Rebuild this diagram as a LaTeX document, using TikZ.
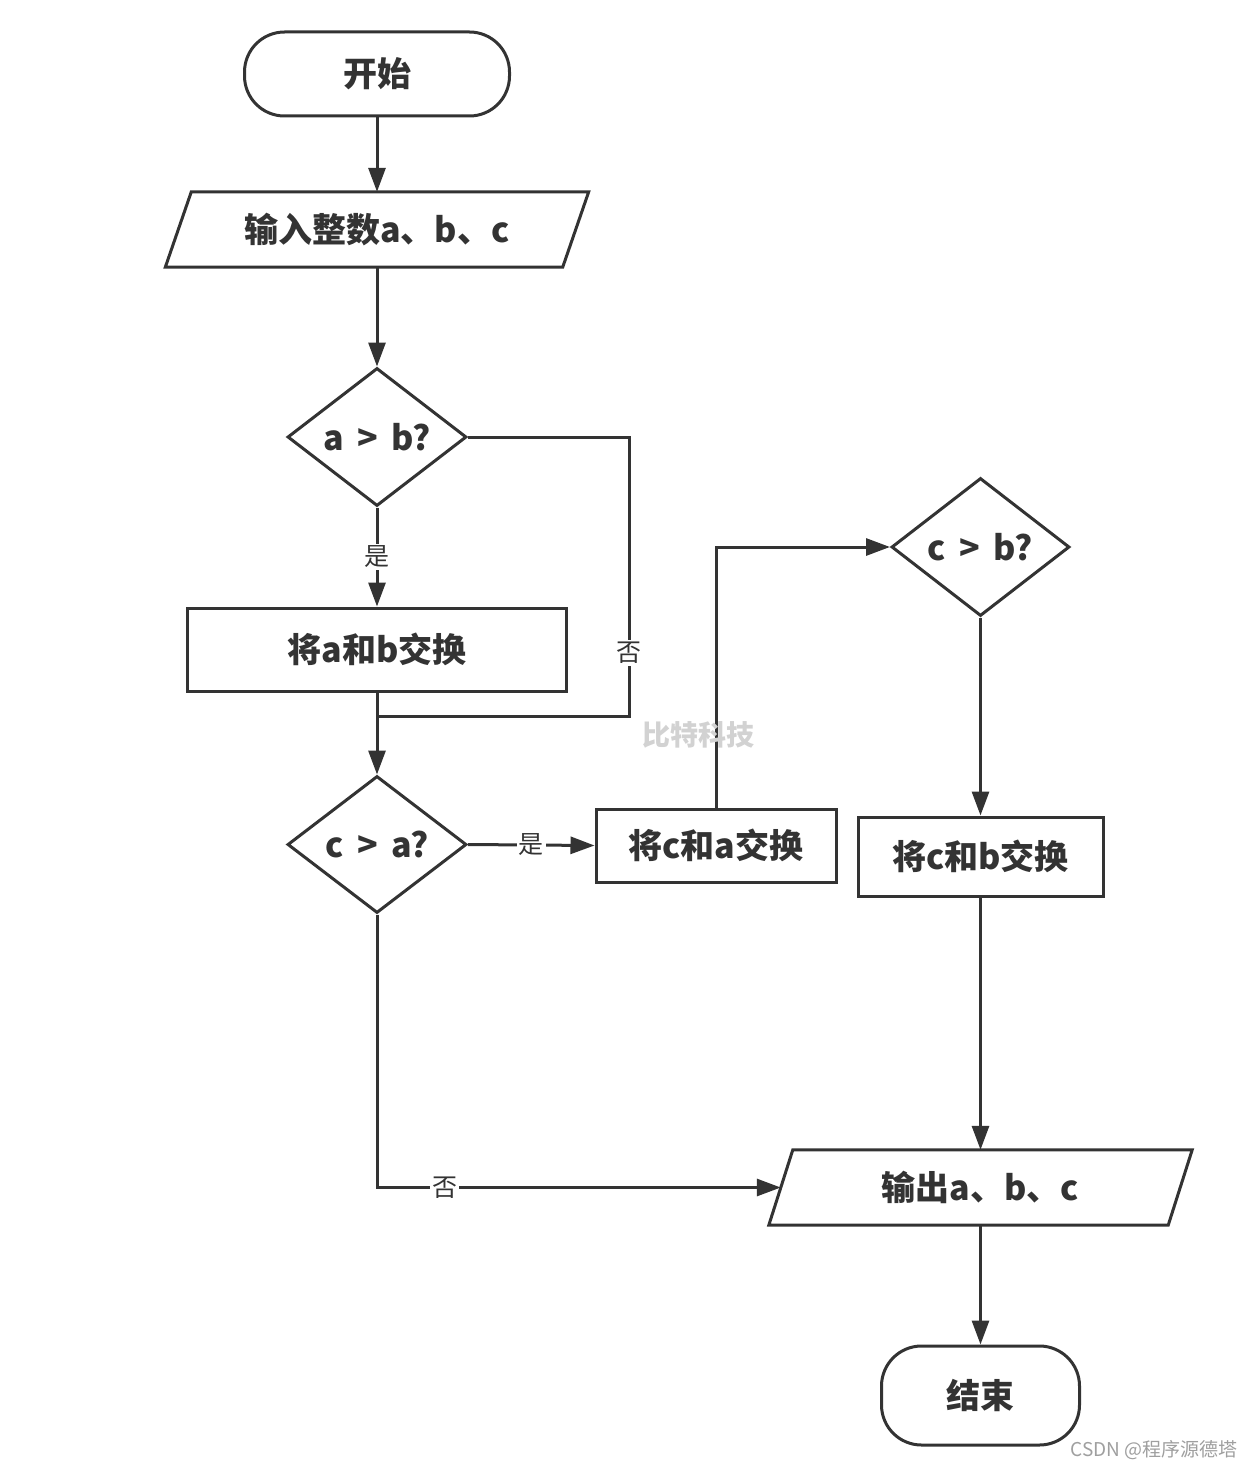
\documentclass[tikz,border=0pt]{standalone}
\usepackage{fontspec}
\setmainfont{Noto Sans CJK SC}
\usetikzlibrary{shapes.geometric,arrows.meta,calc}
\definecolor{ink}{HTML}{333333}
\tikzset{
  shapeline/.style={draw=ink, line width=3pt},
  btext/.style={text=ink, font=\fontsize{34}{40}\selectfont\bfseries, inner sep=0pt},
  boxnode/.style={btext, shapeline, rectangle},
  termnode/.style={btext, shapeline, rectangle, rounded corners=40pt},
  decnode/.style={btext, shapeline, diamond},
  ionode/.style={btext, rectangle, minimum height=75pt},
  conn/.style={draw=ink, line width=3pt, -{Triangle[length=24pt,width=17pt]}},
  plainconn/.style={draw=ink, line width=3pt},
  lbl/.style={text=ink, fill=white, inner sep=2pt, font=\fontsize{25}{29}\selectfont}
}
\begin{document}
\begin{tikzpicture}[x=1pt,y=-1pt]
\useasboundingbox[fill=white] (0,0) rectangle (1253,1469);

% nodes
\node[termnode, minimum width=265pt, minimum height=84pt] (start) at (377,74) {开始};
\node[ionode, minimum width=397pt] (in) at (377,229.5) {输入整数a、b、c};
\draw[shapeline] ([xshift=13pt]in.north west) -- ([xshift=13pt]in.north east)
  -- ([xshift=-13pt]in.south east) -- ([xshift=-13pt]in.south west) -- cycle;
\node[decnode, minimum width=179pt, minimum height=138pt] (d1) at (377,437) {a \,>\, b?};
\node[boxnode, minimum width=379pt, minimum height=83pt] (ab) at (377,649.5) {将a和b交换};
\node[decnode, minimum width=179pt, minimum height=137pt] (d2) at (377,844.5) {c \,>\, a?};
\node[boxnode, minimum width=240pt, minimum height=73pt] (ca) at (716,845.5) {将c和a交换};
\node[decnode, minimum width=178pt, minimum height=138pt] (d3) at (980.5,547) {c \,>\, b?};
\node[boxnode, minimum width=245pt, minimum height=79pt] (cb) at (980.5,856.5) {将c和b交换};
\node[ionode, minimum width=399pt] (out) at (980.5,1187.5) {输出a、b、c};
\draw[shapeline] ([xshift=12pt]out.north west) -- ([xshift=12pt]out.north east)
  -- ([xshift=-12pt]out.south east) -- ([xshift=-12pt]out.south west) -- cycle;
\node[termnode, minimum width=198pt, minimum height=99pt] (end) at (980.5,1395.5) {结束};

\coordinate (j1) at (377,716);
\coordinate (nr) at (629,716);

% connectors
\draw[conn] (start.south) -- (in.north);
\draw[conn] (in.south) -- (d1.north);
\draw[conn] (d1.south) -- node[lbl] {是} (ab.north);
\draw[plainconn] (d1.east) -| node[lbl, pos=0.887] {否} (nr) -- (j1);
\draw[conn] (ab.south) -- (d2.north);
\draw[conn] (d2.east) -- node[lbl] {是} (ca.west);
\draw[conn] (ca.north) |- (d3.west);
\draw[conn] (d3.south) -- (cb.north);
\draw[conn] (cb.south) -- (out.north);
\draw[conn] (d2.south) |- node[lbl, pos=0.584] {否} (out.west);
\draw[conn] (out.south) -- (end.north);

% watermarks
\node[text=gray!35, font=\fontsize{28}{32}\selectfont\bfseries, inner sep=0pt] (wm) at (698,735) {比特科技};
\node[text=gray!75, font=\fontsize{19}{22}\selectfont, anchor=east, inner sep=0pt] (csdn) at (1238,1450) {CSDN @程序源德塔};
\end{tikzpicture}
\end{document}
